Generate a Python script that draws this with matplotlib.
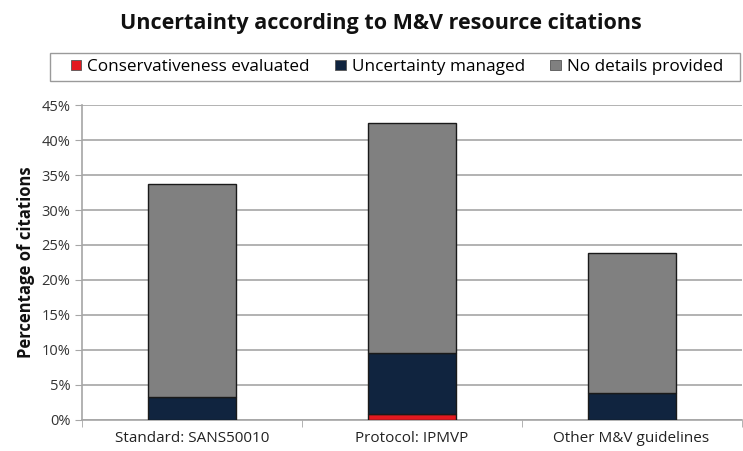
import matplotlib
matplotlib.use("Agg")
import matplotlib.pyplot as plt
from matplotlib.patches import Patch, Rectangle
import numpy as np

categories = ["Standard: SANS50010", "Protocol: IPMVP", "Other M&V guidelines"]
conservativeness = [0.0, 0.8, 0.0]
uncertainty_managed = [3.3, 8.7, 3.9]
no_details = [30.4, 32.9, 20.0]
series_names = ["Conservativeness evaluated", "Uncertainty managed", "No details provided"]
y_ticks = [0, 5, 10, 15, 20, 25, 30, 35, 40, 45]

colors = ["#E3191F", "#10243F", "#808080"]

plt.rcParams["font.family"] = ["Open Sans", "DejaVu Sans"]

W, H = 743, 451
fig = plt.figure(figsize=(W / 100, H / 100), dpi=100)
ax = fig.add_axes([0.110, 0.069, 0.888, 0.698])

x = np.arange(len(categories))
width = 0.4
bottom = np.zeros(len(categories))
for vals, col in zip([conservativeness, uncertainty_managed, no_details], colors):
    vals = np.array(vals)
    ax.bar(x, vals, width, bottom=bottom, color=col, edgecolor="#1a1a1a",
           linewidth=1.0, zorder=3)
    bottom += vals

ax.set_xlim(-0.5, 2.5)
ax.set_ylim(0, 45)
ax.set_yticks(y_ticks)
ax.set_yticklabels([f"{t}%" for t in y_ticks], fontsize=10.5, color="#333333")
ax.yaxis.grid(True, color="#A6A6A6", linewidth=1.2, zorder=0)
ax.set_axisbelow(True)

ax.set_xticks(x)
ax.set_xticklabels(categories, fontsize=11, color="#222222")
ax.tick_params(axis="x", which="major", length=0, pad=8)
ax.set_xticks([-0.5, 0.5, 1.5, 2.5], minor=True)
ax.tick_params(axis="x", which="minor", length=5, color="#A6A6A6")
ax.tick_params(axis="y", length=5, color="#A6A6A6", pad=3)

for side in ["top", "right"]:
    ax.spines[side].set_visible(False)
for side in ["left", "bottom"]:
    ax.spines[side].set_color("#A6A6A6")
    ax.spines[side].set_linewidth(1.2)

ax.set_ylabel("Percentage of citations", fontsize=12, fontweight="bold",
              color="#111111", labelpad=5)

fig.text(0.512, 1 - 24 / H, "Uncertainty according to M&V resource citations",
         ha="center", va="center", fontsize=15.5, fontweight="bold", color="#111111")

# legend frame drawn as a figure-level box
fig.patches.append(Rectangle((50 / W, 1 - 81 / H), 690 / W, 28 / H,
                             transform=fig.transFigure, fill=False,
                             edgecolor="#9A9A9A", linewidth=1.0))

handles = [Patch(facecolor=c, edgecolor="#555555", linewidth=0.6) for c in colors]
leg = fig.legend(handles, series_names, loc="center", ncol=3,
                 bbox_to_anchor=(397 / W, 1 - 67 / H), fontsize=12.3, frameon=False,
                 handlelength=0.6, handleheight=0.6, handletextpad=0.35,
                 columnspacing=1.5, borderpad=0.3, borderaxespad=0)

fig.savefig("out.png", dpi=100)
